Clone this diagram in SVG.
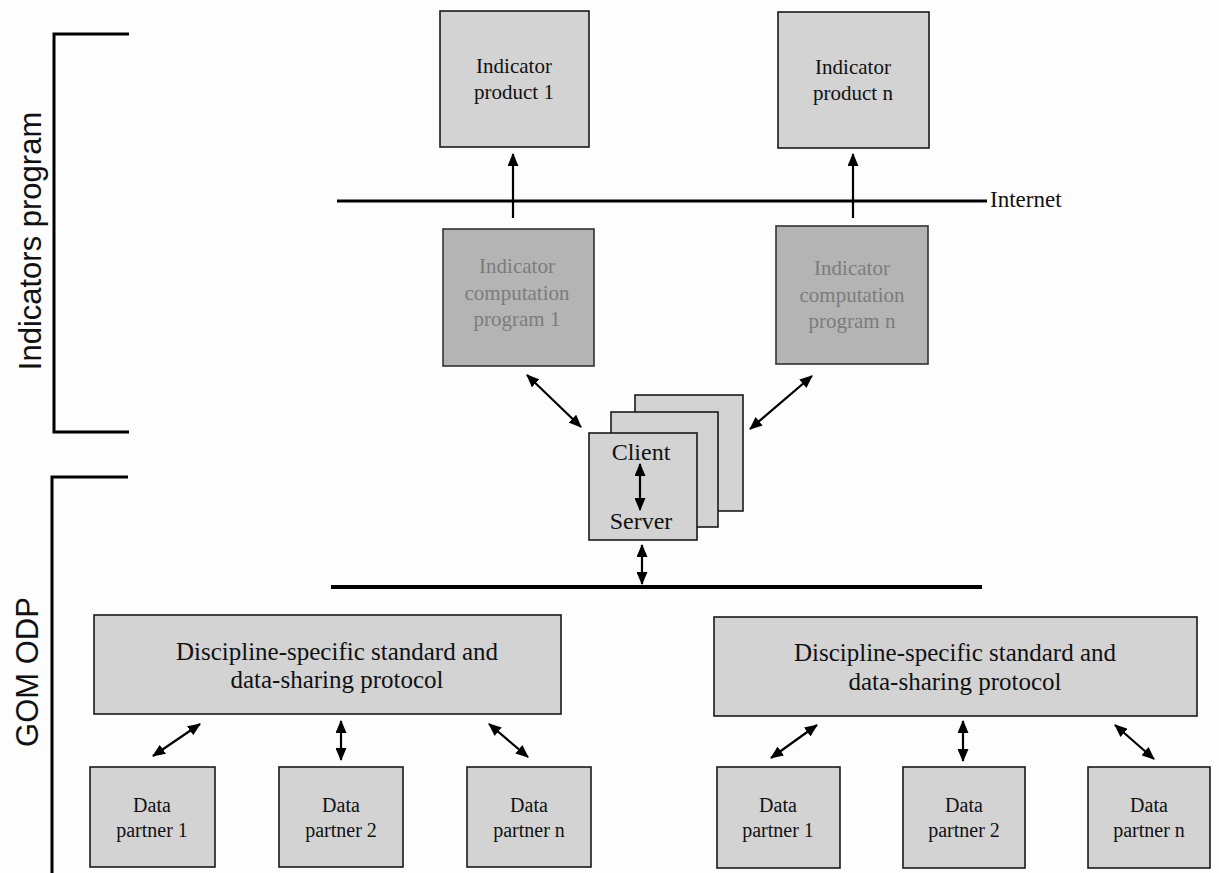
<svg xmlns="http://www.w3.org/2000/svg" width="1219" height="873" viewBox="0 0 1219 873">
<style>
.box{fill:#d3d3d3;stroke:#1a1a1a;stroke-width:1.6}
.comp{fill:#b4b4b4;stroke:#333;stroke-width:1.6}
.t{font-family:"Liberation Serif","Times New Roman",serif;fill:#111;text-anchor:middle}
.ts{font-family:"Liberation Serif","Times New Roman",serif;fill:#111;text-anchor:start;font-size:23px}
.tc{font-family:"Liberation Serif","Times New Roman",serif;fill:#7c7c7c;text-anchor:middle;font-size:21px}
.side{font-family:"Liberation Sans",Arial,sans-serif;fill:#111;font-size:31px;text-anchor:middle}
.arr{stroke:#000;stroke-width:2.2;fill:none;marker-end:url(#ah)}
.dbl{stroke:#000;stroke-width:2.2;fill:none;marker-end:url(#ah);marker-start:url(#ah)}
.bus{stroke:#000;fill:none}
</style>
<defs>
<marker id="ah" markerUnits="userSpaceOnUse" markerWidth="13" markerHeight="11" refX="12" refY="5.5" orient="auto-start-reverse">
<path d="M0,0 L13,5.5 L0,11 z" fill="#000"/>
</marker>
</defs>
<rect width="1219" height="873" fill="#fdfdfd"/>

<g id="brackets" stroke="#000" stroke-width="3" fill="none">
<path d="M129,34 H54 V432 H129"/>
<path d="M128,477 H52 V873"/>
</g>
<text class="side" transform="translate(41,241) rotate(-90)">Indicators program</text>
<text class="side" transform="translate(38,672) rotate(-90)">GOM ODP</text>

<g id="connectors">
<line class="bus" x1="337" y1="201" x2="987" y2="201" stroke-width="3"/>
<line class="bus" x1="331" y1="587" x2="982" y2="587" stroke-width="4"/>
<line class="arr" x1="513" y1="218" x2="513" y2="154"/>
<line class="arr" x1="853" y1="218" x2="853" y2="154"/>
<line class="dbl" x1="527" y1="375" x2="581" y2="427"/>
<line class="dbl" x1="812" y1="376" x2="750" y2="429"/>
<line class="dbl" x1="642" y1="545" x2="642" y2="584"/>
<line class="dbl" x1="153" y1="756" x2="200" y2="724"/>
<line class="dbl" x1="341" y1="721" x2="341" y2="760"/>
<line class="dbl" x1="489" y1="724" x2="528" y2="757"/>
<line class="dbl" x1="771" y1="758" x2="817" y2="725"/>
<line class="dbl" x1="963" y1="721" x2="963" y2="761"/>
<line class="dbl" x1="1115" y1="725" x2="1154" y2="759"/>
</g>
<text class="ts" x="990" y="207">Internet</text>

<g id="product1">
<rect class="box" x="440" y="11" width="149" height="136"/>
<text class="t" font-size="21" x="514" y="73">Indicator</text>
<text class="t" font-size="21" x="514" y="99">product 1</text>
</g>
<g id="productn">
<rect class="box" x="778" y="12" width="151" height="136"/>
<text class="t" font-size="21" x="853" y="74">Indicator</text>
<text class="t" font-size="21" x="853" y="100">product n</text>
</g>

<g id="comp1">
<rect class="comp" x="443" y="229" width="151" height="137"/>
<text class="tc" x="517" y="273">Indicator</text>
<text class="tc" x="517" y="300">computation</text>
<text class="tc" x="517" y="326">program 1</text>
</g>
<g id="compn">
<rect class="comp" x="776" y="226" width="152" height="138"/>
<text class="tc" x="852" y="275">Indicator</text>
<text class="tc" x="852" y="302">computation</text>
<text class="tc" x="852" y="328">program n</text>
</g>

<g id="clientserver">
<rect class="box" x="635" y="395" width="108" height="116"/>
<rect class="box" x="611" y="412" width="107" height="115"/>
<rect class="box" x="589" y="433" width="108" height="107"/>
<text class="t" font-size="24" x="641" y="460">Client</text>
<text class="t" font-size="24" x="641" y="529">Server</text>
<line class="dbl" x1="640" y1="464" x2="640" y2="510"/>
</g>

<g id="protocolL">
<rect class="box" x="94" y="615" width="467" height="99"/>
<text class="t" font-size="25" x="337" y="660">Discipline-specific standard and</text>
<text class="t" font-size="25" x="337" y="688">data-sharing protocol</text>
</g>
<g id="protocolR">
<rect class="box" x="714" y="617" width="483" height="99"/>
<text class="t" font-size="25" x="955" y="661">Discipline-specific standard and</text>
<text class="t" font-size="25" x="955" y="690">data-sharing protocol</text>
</g>

<g id="dpL1">
<rect class="box" x="90" y="767" width="125" height="100"/>
<text class="t" font-size="20" x="152" y="812">Data</text>
<text class="t" font-size="20" x="152" y="837">partner 1</text>
</g>
<g id="dpL2">
<rect class="box" x="279" y="767" width="124" height="100"/>
<text class="t" font-size="20" x="341" y="812">Data</text>
<text class="t" font-size="20" x="341" y="837">partner 2</text>
</g>
<g id="dpLn">
<rect class="box" x="467" y="767" width="124" height="100"/>
<text class="t" font-size="20" x="529" y="812">Data</text>
<text class="t" font-size="20" x="529" y="837">partner n</text>
</g>
<g id="dpR1">
<rect class="box" x="717" y="767" width="123" height="101"/>
<text class="t" font-size="20" x="778" y="812">Data</text>
<text class="t" font-size="20" x="778" y="837">partner 1</text>
</g>
<g id="dpR2">
<rect class="box" x="903" y="767" width="122" height="101"/>
<text class="t" font-size="20" x="964" y="812">Data</text>
<text class="t" font-size="20" x="964" y="837">partner 2</text>
</g>
<g id="dpRn">
<rect class="box" x="1088" y="767" width="122" height="101"/>
<text class="t" font-size="20" x="1149" y="812">Data</text>
<text class="t" font-size="20" x="1149" y="837">partner n</text>
</g>
</svg>
